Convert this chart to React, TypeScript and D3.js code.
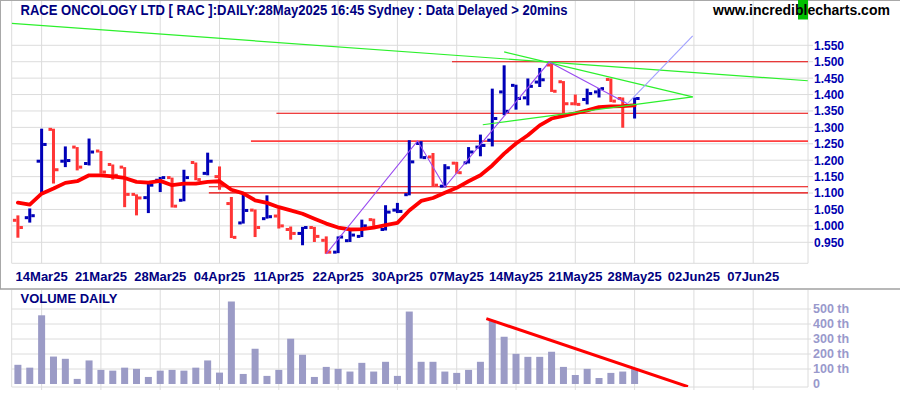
import React from 'react';
import * as d3 from 'd3';

const TITLE = "RACE ONCOLOGY LTD [ RAC ]:DAILY:28May2025 16:45 Sydney : Data Delayed > 20mins";
const SITE_A = "www.incredi";
const SITE_B = "bl";
const SITE_C = "echarts.com";
const VOL_TITLE = "VOLUME DAILY";

const dates = [
  "12Mar25","13Mar25","14Mar25","17Mar25","18Mar25","19Mar25","20Mar25","21Mar25","24Mar25","25Mar25","26Mar25","27Mar25","28Mar25","31Mar25",
  "01Apr25","02Apr25","03Apr25","04Apr25","07Apr25","08Apr25","09Apr25","10Apr25","11Apr25","14Apr25","15Apr25","16Apr25","17Apr25","22Apr25","23Apr25","24Apr25","28Apr25","29Apr25","30Apr25",
  "01May25","02May25","05May25","06May25","07May25","08May25","09May25","12May25","13May25","14May25","15May25","16May25","19May25","20May25","21May25","22May25","23May25","26May25","27May25","28May25"
];

const open = [1.017,1.025,1.197,1.294,1.197,1.240,1.190,1.228,1.187,1.179,1.096,1.086,1.139,1.147,1.078,1.193,1.160,1.150,1.068,1.009,1.048,1.022,1.030,0.989,0.977,0.995,0.956,0.920,0.955,0.968,1.019,0.989,1.048,1.095,1.251,1.210,1.121,1.191,1.192,1.240,1.261,1.408,1.428,1.390,1.438,1.490,1.439,1.372,1.385,1.408,1.446,1.388,1.367];
const high = [1.032,1.053,1.296,1.296,1.242,1.240,1.266,1.228,1.187,1.179,1.096,1.129,1.149,1.147,1.171,1.193,1.223,1.181,1.088,1.101,1.050,1.093,1.052,0.998,0.997,0.997,0.968,0.968,0.986,1.019,1.022,1.063,1.070,1.261,1.258,1.222,1.188,1.195,1.240,1.278,1.418,1.489,1.430,1.449,1.481,1.499,1.441,1.400,1.418,1.420,1.449,1.391,1.391];
const low = [0.964,1.010,1.100,1.129,1.179,1.169,1.184,1.159,1.141,1.057,1.032,1.039,1.103,1.056,1.075,1.139,1.154,1.110,0.963,1.007,0.966,1.022,0.992,0.958,0.941,0.951,0.915,0.917,0.951,0.966,0.997,0.986,1.039,1.093,1.205,1.120,1.117,1.159,1.190,1.212,1.242,1.337,1.354,1.367,1.423,1.408,1.340,1.367,1.370,1.391,1.377,1.299,1.327];
const close = [0.995,1.031,1.248,1.171,1.199,1.179,1.225,1.164,1.154,1.096,1.085,1.124,1.147,1.060,1.147,1.141,1.197,1.125,0.965,1.047,0.995,1.028,1.000,0.977,0.995,0.968,0.920,0.966,0.972,1.000,0.998,1.042,1.044,1.195,1.208,1.124,1.177,1.162,1.225,1.245,1.327,1.349,1.388,1.425,1.445,1.410,1.372,1.370,1.403,1.418,1.380,1.367,1.388];
const ma = [1.071,1.065,1.098,1.114,1.131,1.136,1.154,1.154,1.151,1.146,1.134,1.132,1.137,1.124,1.129,1.129,1.134,1.136,1.110,1.099,1.078,1.070,1.057,1.047,1.037,1.022,1.007,0.995,0.989,0.990,0.995,1.002,1.009,1.047,1.076,1.085,1.101,1.116,1.136,1.154,1.184,1.220,1.251,1.276,1.306,1.327,1.335,1.343,1.352,1.362,1.364,1.365,1.367];
const volume = [128,109,458,183,168,34,157,94,89,109,101,47,89,94,89,109,157,76,550,67,235,54,94,302,195,47,114,101,83,141,83,148,54,483,148,148,83,74,94,148,423,315,201,181,181,215,114,60,101,40,74,83,101];

const xTickLabels = ["14Mar25","21Mar25","28Mar25","04Apr25","11Apr25","22Apr25","30Apr25","07May25","14May25","21May25","28May25","02Jun25","07Jun25"];
const xTickIndex = [2,7,12,17,22,27,32,37,42,47,52,57,62];
const priceTicks = [0.95,1.0,1.05,1.1,1.15,1.2,1.25,1.3,1.35,1.4,1.45,1.5,1.55];
const volTicks = [0,100,200,300,400,500];

// support / resistance levels: [price, start index]
const hLevels = [1.4997, 1.343, 1.258, 1.119, 1.1006];
const hStarts = [36.6, 21.8, 19.65, 16.1, 16.1];

// trend lines as [index, price] pairs
const greenLines: [number, number][][] = [
  [[-0.52, 1.617], [66.6, 1.442]],
  [[41.0, 1.530], [56.9, 1.393]],
  [[39.2, 1.308], [56.9, 1.393]],
];
const purpleZig: [number, number][] = [[26, 0.915], [33.7, 1.259], [36, 1.118], [44.8, 1.499], [51.4, 1.372]];
const purpleExt: [number, number][] = [[51.4, 1.372], [56.9, 1.579]];
const volTrend: [number, number][] = [[39.5, 436], [56.5, -18]];

const W = 900, H = 395;
const LEFT = 11.7, AXIS = 808;
const P_TOP = 0, P_BOT = 263.3;
const V_TOP = 290, V_BOT = 387;
const FONT = "'Liberation Sans', Arial, Helvetica, sans-serif";
const BLUE = "#0000b8";
const RED = "#ff3535";
const GRID = "#dcdcdc";

export default function App() {
  const x = d3.scaleLinear().domain([0, 52]).range([17.9, 634.6]);
  const y = d3.scaleLinear().domain([0.95, 1.55]).range([242.3, 45.3]);
  const yv = d3.scaleLinear().domain([0, 500]).range([384, 309]);

  const lineP = d3.line<[number, number]>().x(d => x(d[0])).y(d => y(d[1]));
  const lineV = d3.line<[number, number]>().x(d => x(d[0])).y(d => yv(d[1]));
  const maLine = d3.line<number>().x((_, i) => x(i)).y(d => y(d));

  return (
    <svg width={W} height={H} style={{ position: 'absolute', left: 0, top: 0, background: '#fff' }} fontFamily={FONT}>
      <defs>
        <clipPath id="pclip"><rect x={LEFT} y={P_TOP} width={AXIS - LEFT} height={P_BOT - P_TOP} /></clipPath>
        <clipPath id="vclip"><rect x={LEFT} y={V_TOP} width={AXIS - LEFT} height={V_BOT - V_TOP} /></clipPath>
      </defs>
      <rect x={0} y={0} width={W} height={H} fill="#fff" />

      {/* price grid */}
      {xTickIndex.map((t, i) => (
        <g key={'vg' + i}>
          <line x1={x(t)} x2={x(t)} y1={P_TOP} y2={P_BOT} stroke={GRID} strokeWidth={1} />
          <line x1={x(t)} x2={x(t)} y1={V_TOP} y2={V_BOT + 3} stroke={GRID} strokeWidth={1} />
        </g>
      ))}
      {priceTicks.map((p, i) => (
        <line key={'hg' + i} x1={LEFT} x2={AXIS + 5} y1={y(p)} y2={y(p)} stroke={GRID} strokeWidth={1} />
      ))}
      <line x1={LEFT} x2={LEFT} y1={P_TOP} y2={P_BOT} stroke={GRID} />
      <line x1={AXIS} x2={AXIS} y1={P_TOP} y2={P_BOT} stroke={GRID} />
      <line x1={LEFT} x2={AXIS} y1={P_BOT} y2={P_BOT} stroke={GRID} />

      {/* volume grid */}
      {volTicks.filter(v => v > 0).map((v, i) => (
        <line key={'vh' + i} x1={LEFT} x2={AXIS + 3} y1={yv(v)} y2={yv(v)} stroke={GRID} strokeWidth={1} />
      ))}
      <line x1={LEFT} x2={LEFT} y1={V_TOP} y2={V_BOT} stroke={GRID} />
      <line x1={AXIS} x2={AXIS} y1={V_TOP} y2={V_BOT} stroke={GRID} />
      <line x1={LEFT} x2={AXIS} y1={V_BOT} y2={V_BOT} stroke={GRID} />

      {/* frame */}
      <line x1={0} x2={W} y1={0.5} y2={0.5} stroke="#a8a8a8" />
      <line x1={0.5} x2={0.5} y1={0} y2={289} stroke="#a8a8a8" />
      <line x1={0} x2={W} y1={289} y2={289} stroke="#a0a0a0" strokeWidth={1.5} />

      {/* price panel marks */}
      <g clipPath="url(#pclip)">
        {hLevels.map((p, i) => (
          <line key={'hl' + i} x1={x(hStarts[i])} x2={AXIS} y1={y(p)} y2={y(p)}
            stroke={i === 2 ? "#ff4040" : "#e80000"} strokeWidth={i === 2 ? 1.6 : 1.1} />
        ))}
        {open.map((o, i) => {
          const up = i === 0 ? close[i] >= o : close[i] >= close[i - 1];
          const c = up ? BLUE : RED;
          const cx = x(i);
          return (
            <g key={'b' + i}>
              <rect x={cx - 1.5} y={y(high[i])} width={3} height={Math.max(1, y(low[i]) - y(high[i]))} fill={c} />
              <rect x={cx - 5} y={y(o) - 1.5} width={3.5} height={3} fill={c} />
              <rect x={cx + 1.5} y={y(close[i]) - 1.5} width={3.5} height={3} fill={c} />
            </g>
          );
        })}
        <path d={maLine(ma) || ''} fill="none" stroke="#ff0000" strokeWidth={3.8} strokeLinejoin="round" strokeLinecap="round" />
        {greenLines.map((g, i) => (
          <path key={'gl' + i} d={lineP(g) || ''} fill="none" stroke="#2cf02c" strokeWidth={1.2} />
        ))}
        <path d={lineP(purpleZig) || ''} fill="none" stroke="#9a4cf0" strokeWidth={1.1} />
        <path d={lineP(purpleExt) || ''} fill="none" stroke="#a0a0ff" strokeWidth={1.1} />
      </g>

      {/* price axis labels */}
      {priceTicks.map((p, i) => (
        <text key={'pl' + i} x={814} y={y(p) + 4.4} fontSize={12} fontWeight="bold" fill="#0000b0">{p.toFixed(3)}</text>
      ))}

      {/* x axis labels */}
      {xTickIndex.map((t, i) => (
        <text key={'xl' + i} x={x(t)} y={281} fontSize={13} fontWeight="bold" fill="#000080" textAnchor="middle">{xTickLabels[i]}</text>
      ))}

      {/* volume */}
      <g clipPath="url(#vclip)">
        {volume.map((v, i) => (
          <rect key={'v' + i} x={x(i) - 3.5} y={yv(v)} width={7} height={yv(0) - yv(v)} fill="#9b9bc6" />
        ))}
        <path d={lineV(volTrend) || ''} fill="none" stroke="#ff0000" strokeWidth={3} />
      </g>
      {volTicks.map((v, i) => (
        <text key={'vl' + i} x={813} y={yv(v) + 4.4} fontSize={12.5} fontWeight="bold" fill="#9999cc">{v === 0 ? '0' : `${v} th`}</text>
      ))}
      <text x={20.5} y={302.7} fontSize={13} fontWeight="bold" fill="#000080">{VOL_TITLE}</text>

      {/* titles */}
      <text x={20.5} y={14.5} fontSize={14} fontWeight="bold" fill="#000080" textLength={547} lengthAdjust="spacingAndGlyphs">{TITLE}</text>
      <rect x={798} y={0} width={10} height={19.5} fill="#00c000" />
      <text x={713} y={15} fontSize={14} fontWeight="bold" fill="#000">
        <tspan>{SITE_A}</tspan><tspan>{SITE_B}</tspan><tspan>{SITE_C}</tspan>
      </text>
      <desc>{dates.join(',')}</desc>
    </svg>
  );
}
